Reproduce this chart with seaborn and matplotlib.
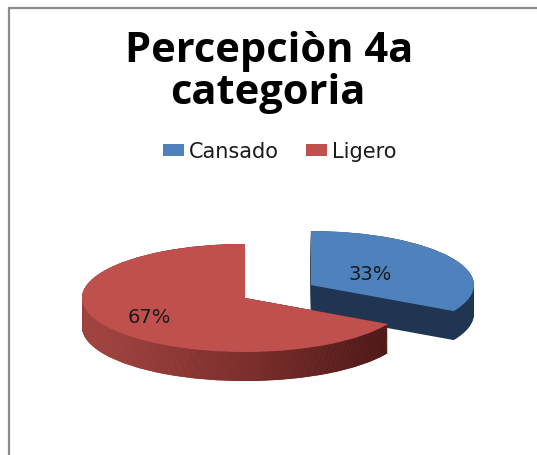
import numpy as np
import matplotlib
matplotlib.use("Agg")
import matplotlib.pyplot as plt
import seaborn as sns
from matplotlib.colors import LinearSegmentedColormap
from matplotlib.lines import Line2D

# ---- data ----
categories = ["Cansado", "Ligero"]
values = [33, 67]
title_lines = ["Percepciòn 4a", "categoria"]

sns.set_theme(style="white")
plt.rcParams['font.family'] = ['DejaVu Sans']

W, H = 537, 456
fig = plt.figure(figsize=(W / 100, H / 100), dpi=100)
fig.patch.set_facecolor('white')

top_colors = ["#4F81BD", "#C0504D"]
side_colors = ["#1F3552", "#7A2F2D"]
explode = [0.47, 0]

# axes geometry (pixels)
rx, ry = 163, 54
cx, cy = 245, 299
ax_l, ax_r, ax_t, ax_b = 30, 510, 190, 410
ax = fig.add_axes([ax_l / W, 1 - ax_b / H, (ax_r - ax_l) / W, (ax_b - ax_t) / H])
xlim = (-(cx - ax_l) / rx, (ax_r - cx) / rx)
ylim = (-(ax_b - cy) / ry, (cy - ax_t) / ry)

depth = 29 / ry
levels = np.linspace(depth, 0.0, 32)
red_cmap = LinearSegmentedColormap.from_list('side', ['#B04D49', '#82322F', '#461716'])
grad = np.linspace(0, 1, 256)[None, :]
for lv in levels:
    wedges, _ = ax.pie(values, explode=explode, startangle=90, counterclock=False,
                       center=(0, -lv), colors=side_colors,
                       wedgeprops=dict(linewidth=0))
    im = ax.imshow(grad, cmap=red_cmap, extent=(-1.0, 0.87, -lv - 1.1, -lv + 1.1),
                   aspect='auto', zorder=1)
    im.set_clip_path(wedges[1])

wedges, texts, autotexts = ax.pie(values, explode=explode, startangle=90,
                                  counterclock=False, colors=top_colors,
                                  autopct='%1.0f%%', pctdistance=0.5,
                                  wedgeprops=dict(linewidth=0),
                                  textprops=dict(color='#1a1a1a', fontsize=14))
label_dist = [0.42, 0.68]
for w, t, d in zip(wedges, autotexts, label_dist):
    mid = np.deg2rad((w.theta1 + w.theta2) / 2)
    t.set_position((w.center[0] + d * np.cos(mid), w.center[1] + d * np.sin(mid)))

ax.set_xlim(*xlim)
ax.set_ylim(*ylim)
ax.set_aspect('auto')
ax.axis('off')

# title
tfam = ['Open Sans', 'DejaVu Sans']
fig.text(269 / W, 1 - 62 / H, title_lines[0], ha='center', va='baseline',
         fontsize=30, fontweight='bold', family=tfam, color='black')
fig.text(268 / W, 1 - 104 / H, title_lines[1], ha='center', va='baseline',
         fontsize=30, fontweight='bold', family=tfam, color='black')

# legend
fig.legend(wedges, categories, loc='center', bbox_to_anchor=(280 / W, 1 - 152 / H),
           ncol=2, frameon=False, fontsize=15, handlelength=1.0, handleheight=0.5,
           handletextpad=0.25, columnspacing=1.3, labelcolor='#1a1a1a')

# chart frame (left and top edges visible)
x0, y0 = 8.5 / W, 1 - 8.5 / H
fig.add_artist(Line2D([x0, x0], [0, y0], transform=fig.transFigure,
                      color='#8C8C8C', linewidth=1.6))
fig.add_artist(Line2D([x0, 1], [y0, y0], transform=fig.transFigure,
                      color='#8C8C8C', linewidth=1.6))

fig.savefig('out.png', dpi=100, facecolor='white')
